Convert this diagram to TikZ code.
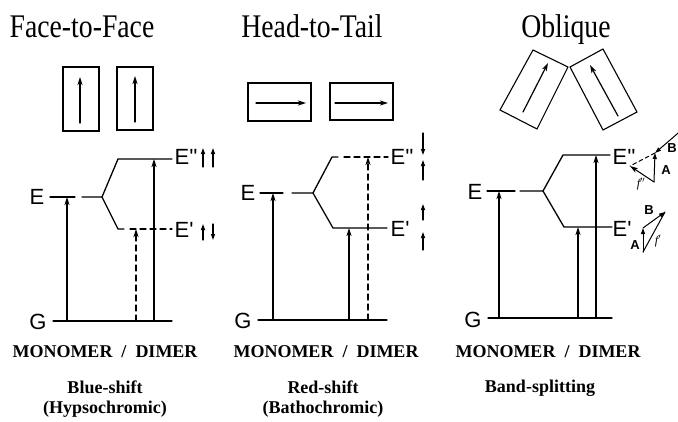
\documentclass[tikz,border=0pt]{standalone}
\usepackage{fontspec}
\setmainfont{Liberation Serif}
\newfontfamily\titlefont[FakeStretch=0.84]{Liberation Serif}
\newfontfamily\lblfont{Liberation Sans}
\usetikzlibrary{arrows.meta}
\begin{document}
\begin{tikzpicture}[x=1pt,y=-1pt,
  line width=1.2pt, line cap=round,
  tr/.style={-{Stealth[length=8pt,width=5pt,inset=2pt]}},
  spin/.style={-{Triangle[length=6pt,width=4pt]}, line width=1.2pt},
  lvl/.style={line width=1.3pt},
  dsh/.style={dash pattern=on 6pt off 4pt},
  titletxt/.style={font=\titlefont\fontsize{33}{33}\selectfont, inner sep=0pt, anchor=base},
  captxt/.style={font=\bfseries\fontsize{18}{18}\selectfont, inner sep=0pt},
  shifttxt/.style={font=\bfseries\fontsize{18}{20}\selectfont, inner sep=0pt, align=center},
  elbl/.style={font=\lblfont\fontsize{22}{22}\selectfont, inner sep=0pt},
  vlbl/.style={font=\lblfont\bfseries\fontsize{13}{13}\selectfont, inner sep=0pt},
  flbl/.style={font=\itshape\fontsize{12}{12}\selectfont, inner sep=0pt},
  dipole/.style={line width=1.1pt}]
\useasboundingbox (0,0) rectangle (678,421);
\clip (0,0) rectangle (678,421);

% ---------- titles ----------
\node[titletxt] (t1) at (82,37) {Face-to-Face};
\node[titletxt] (t2) at (312,37) {Head-to-Tail};
\node[titletxt] (t3) at (566,37) {Oblique};

% ---------- dipole sketches ----------
% face-to-face
\draw[dipole] (63,67) rectangle (99,131);
\draw[dipole] (117,67) rectangle (153,130);
\coordinate (fa1) at (80,123); \coordinate (fa2) at (80,77);
\coordinate (fb1) at (135,122); \coordinate (fb2) at (135,76);
\draw[tr] (fa1) -- (fa2);
\draw[tr] (fb1) -- (fb2);
% head-to-tail
\draw[dipole] (248,83) rectangle (311,121);
\draw[dipole] (330,83) rectangle (393,120);
\coordinate (ha1) at (256,103); \coordinate (ha2) at (306,103);
\coordinate (hb1) at (335,103); \coordinate (hb2) at (388,103);
\draw[tr] (ha1) -- (ha2);
\draw[tr] (hb1) -- (hb2);
% oblique
\draw[dipole] (533,50) -- (568,67) -- (537,129) -- (500,110) -- cycle;
\draw[dipole] (570,67) -- (603,49) -- (637,112) -- (603,130) -- cycle;
\coordinate (oa1) at (523,112); \coordinate (oa2) at (548,63);
\coordinate (ob1) at (618,116); \coordinate (ob2) at (590,65);
\draw[tr] (oa1) -- (oa2);
\draw[tr] (ob1) -- (ob2);

% ---------- panel 1: face-to-face ----------
\node[elbl, anchor=east] (E1) at (45,197) {E};
\node[elbl, anchor=east] (G1) at (47,322) {G};
\coordinate (g1a) at (53,321);  \coordinate (g1b) at (172,321);
\coordinate (e1a) at (50,197);  \coordinate (e1b) at (75,197);
\coordinate (e1c) at (82,197);  \coordinate (e1br) at (102,197);
\coordinate (u1) at (118,159);  \coordinate (u1e) at (172,159);
\coordinate (l1) at (118,229);  \coordinate (l1e) at (172,229);
\draw[lvl] (g1a) -- (g1b);
\draw[lvl] (e1a) -- (e1b);
\draw[lvl] (e1c) -- (e1br) -- (u1) -- (u1e);
\draw[lvl] (e1br) -- (l1) -- ++(6,0);
\draw[lvl, dsh] ([xshift=12pt]l1) -- (l1e);
\node[elbl, anchor=west] (Epp1) at (174,157) {E''};
\node[elbl, anchor=west] (Ep1) at (174,230) {E'};
\draw[tr] (67,321) -- (67,197);
\draw[tr, dsh] (136,321) -- (136,229);
\draw[tr] (154,321) -- (154,159);
% spins
\draw[spin] (203,167) -- (203,148);
\draw[spin] (213,167) -- (213,148);
\draw[spin] (203,240) -- (203,224);
\draw[spin] (213,224) -- (213,240);

% ---------- panel 2: head-to-tail ----------
\node[elbl, anchor=east] (E2) at (256,193) {E};
\node[elbl, anchor=east] (G2) at (252,321) {G};
\coordinate (g2a) at (258,320);  \coordinate (g2b) at (387,320);
\coordinate (e2a) at (260,193);  \coordinate (e2b) at (283,193);
\coordinate (e2c) at (292,193);  \coordinate (e2br) at (313,193);
\coordinate (u2) at (332,157);   \coordinate (u2e) at (388,157);
\coordinate (l2) at (333,228);   \coordinate (l2e) at (387,228);
\draw[lvl] (g2a) -- (g2b);
\draw[lvl] (e2a) -- (e2b);
\draw[lvl] (e2c) -- (e2br) -- (l2) -- (l2e);
\draw[lvl] (e2br) -- (u2) -- ++(6,0);
\draw[lvl, dsh] ([xshift=12pt]u2) -- (u2e);
\node[elbl, anchor=west] (Epp2) at (390,157) {E''};
\node[elbl, anchor=west] (Ep2) at (390,229) {E'};
\draw[tr] (273,320) -- (273,193);
\draw[tr] (349,320) -- (349,228);
\draw[tr, dsh] (368,320) -- (368,157);
% spins
\draw[spin] (423,133) -- (423,155);
\draw[spin] (423,180) -- (423,160);
\draw[spin] (423,220) -- (423,204);
\draw[spin] (423,250) -- (423,232);

% ---------- panel 3: oblique ----------
\node[elbl, anchor=east] (E3) at (483,192) {E};
\node[elbl, anchor=east] (G3) at (482,320) {G};
\coordinate (g3a) at (488,318);  \coordinate (g3b) at (612,318);
\coordinate (e3a) at (487,191);  \coordinate (e3b) at (515,191);
\coordinate (e3c) at (520,191);  \coordinate (e3br) at (543,191);
\coordinate (u3) at (563,155);   \coordinate (u3e) at (610,155);
\coordinate (l3) at (564,227);   \coordinate (l3e) at (612,227);
\draw[lvl] (g3a) -- (g3b);
\draw[lvl] (e3a) -- (e3b);
\draw[lvl] (e3c) -- (e3br) -- (u3) -- (u3e);
\draw[lvl] (e3br) -- (l3) -- (l3e);
\node[elbl, anchor=west] (Epp3) at (612,157) {E''};
\node[elbl, anchor=west] (Ep3) at (612,229) {E'};
\draw[tr] (499,318) -- (499,191);
\draw[tr] (578,318) -- (578,227);
\draw[tr] (596,318) -- (596,155);
% vector sums, upper state
\coordinate (pA0) at (654,182); \coordinate (pA1) at (655,153);
\coordinate (pB0) at (684,128); \coordinate (pF) at (630,166);
\draw[spin, line width=1pt] (pB0) -- (pA1);
\draw[spin, line width=1pt] (pA0) -- (pA1);
\draw[line width=1pt, dash pattern=on 4pt off 3pt] (pA1) -- (pF);
\draw[tr, line width=1pt] (pA0) -- (pF);
\node[vlbl] (lA2) at (666,170) {A};
\node[vlbl] (lB2) at (672,148) {B};
\node[flbl] (lf2) at (641,184) {f$''$};
% vector sums, lower state
\coordinate (qA0) at (643,252); \coordinate (qA1) at (643,228);
\coordinate (qB1) at (665,212);
\draw[spin, line width=1pt] (qA0) -- (qA1);
\draw[spin, line width=1pt] (qA1) -- (qB1);
\draw[line width=1pt] (qA0) -- (qB1);
\node[vlbl] (lA1) at (635,245) {A};
\node[vlbl] (lB1) at (649,210) {B};
\node[flbl] (lf1) at (658,241) {f$'$};

% ---------- captions ----------
\node[captxt] (m1) at (105,352) {MONOMER\hspace{9pt}/\hspace{9pt}DIMER};
\node[captxt] (m2) at (326,352) {MONOMER\hspace{9pt}/\hspace{9pt}DIMER};
\node[captxt] (m3) at (548,352) {MONOMER\hspace{9pt}/\hspace{9pt}DIMER};
\node[shifttxt] (s1) at (105,399) {Blue-shift\\(Hypsochromic)};
\node[shifttxt] (s2) at (323,399) {Red-shift\\(Bathochromic)};
\node[captxt] (s3) at (540,388) {Band-splitting};
\end{tikzpicture}
\end{document}
